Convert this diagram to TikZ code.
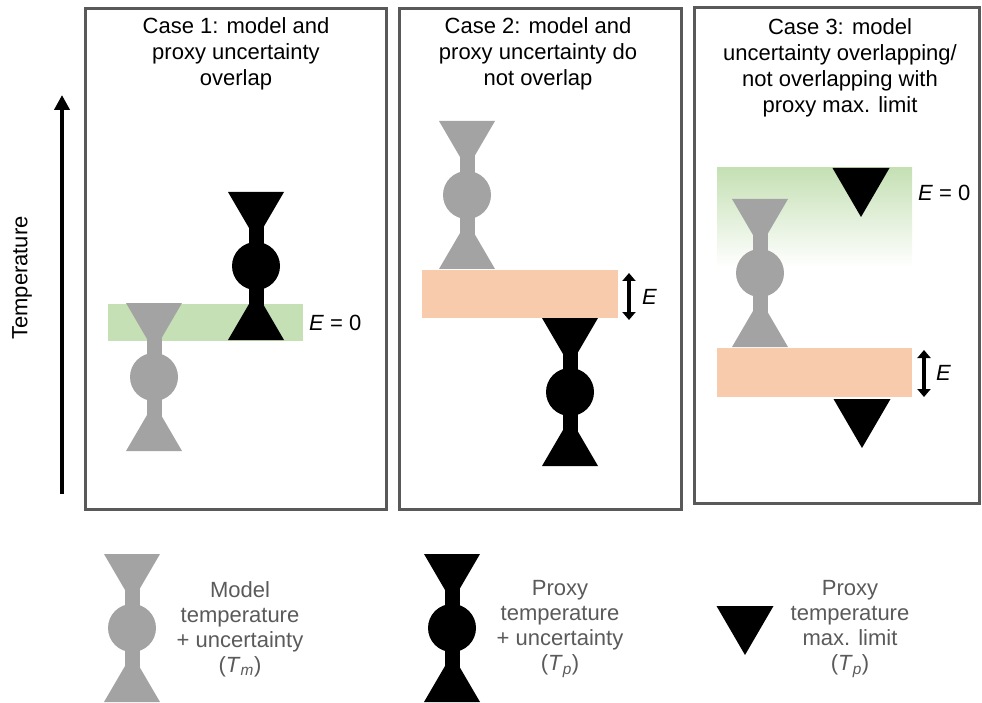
\documentclass[tikz,border=0pt]{standalone}
\usepackage{fontspec}
\setmainfont{Liberation Sans}
\usetikzlibrary{arrows.meta}
\definecolor{glgray}{HTML}{A3A3A3}
\definecolor{bandgreen}{HTML}{C5E0B4}
\definecolor{bandsalmon}{HTML}{F8CBAD}
\definecolor{framegray}{HTML}{595959}
\definecolor{legtext}{HTML}{5A5A5A}
\tikzset{
  pics/hglass/.style={code={
    \fill[#1] (-28,-74) -- (28,-74) -- (0,-26) -- cycle;
    \fill[#1] (-28,74) -- (28,74) -- (0,26) -- cycle;
    \fill[#1] (-7.5,-74) rectangle (7.5,74);
    \fill[#1] (0,0) circle [radius=24];
  }},
  pics/maxtri/.style={code={
    \fill[#1] (-28.5,0) -- (28.5,0) -- (0,49) -- cycle;
  }},
  panel/.style={draw=framegray, line width=3pt},
  titletext/.style={font=\fontsize{22}{26}\selectfont, align=center, text=black, inner sep=0pt},
  legendtext/.style={font=\fontsize{22}{25}\selectfont, align=center, text=legtext, inner sep=0pt},
  elabel/.style={font=\fontsize{22}{26}\selectfont, anchor=west, inner sep=0pt},
  earrow/.style={line width=3.5pt, {Triangle[width=13pt,length=8pt]}-{Triangle[width=13pt,length=8pt]}},
}
\begin{document}
\begin{tikzpicture}[x=1pt,y=-1pt]
\useasboundingbox (0,0) rectangle (982,703);

% temperature axis
\coordinate (tbot) at (62,494);
\coordinate (ttop) at (62,95);
\draw[line width=4.5pt, -{Triangle[width=15pt,length=15pt]}] (tbot) -- (ttop);
\node[font=\fontsize{22}{26}\selectfont, rotate=90, inner sep=0pt] (templabel) at (22,278) {Temperature};

% ---------- Case 1 ----------
\draw[panel] (85,9) rectangle (386,509);
\node[titletext] (t1) at (236,54) {Case 1: model and\\proxy uncertainty\\overlap};
\fill[bandgreen] (108,304) rectangle (303,341);
\pic at (256,266) {hglass=black};
\pic at (154,377) {hglass=glgray};
\node[elabel] (e1) at (309,323) {\textit{E} = 0};

% ---------- Case 2 ----------
\draw[panel] (399,9) rectangle (681,509);
\node[titletext] (t2) at (538,54) {Case 2: model and\\proxy uncertainty do\\not overlap};
\pic at (467,195) {hglass=glgray};
\fill[bandsalmon] (422,270) rectangle (618,318);
\pic at (570,392) {hglass=black};
\coordinate (a2t) at (629,273);
\coordinate (a2b) at (629,320);
\draw[earrow] (a2t) -- (a2b);
\node[elabel] (e2) at (642,297) {\textit{E}};

% ---------- Case 3 ----------
\draw[panel] (694,8) rectangle (979,503);
\node[titletext] (t3) at (840,68) {Case 3: model\\uncertainty overlapping/\\not overlapping with\\proxy max. limit};
\shade[top color=bandgreen, bottom color=white, middle color=bandgreen!50] (717,168) rectangle (912,267);
\pic at (861,168) {maxtri=black};
\pic at (760,273) {hglass=glgray};
\fill[bandsalmon] (717,348) rectangle (912,397);
\pic at (862,399) {maxtri=black};
\node[elabel] (e3a) at (918,193) {\textit{E} = 0};
\coordinate (a3t) at (924,350);
\coordinate (a3b) at (924,397);
\draw[earrow] (a3t) -- (a3b);
\node[elabel] (e3b) at (936,373) {\textit{E}};

% ---------- Legend ----------
\pic at (132,628) {hglass=glgray};
\node[legendtext] (l1) at (240,629) {Model\\temperature\\+ uncertainty\\(\textit{T}\textsubscript{\textit{m}})};
\pic at (452,628) {hglass=black};
\node[legendtext] (l2) at (560,629) {Proxy\\temperature\\+ uncertainty\\(\textit{T}\textsubscript{\textit{p}})};
\pic at (745,606) {maxtri=black};
\node[legendtext] (l3) at (850,629) {Proxy\\temperature\\max. limit\\(\textit{T}\textsubscript{\textit{p}})};
\end{tikzpicture}
\end{document}
